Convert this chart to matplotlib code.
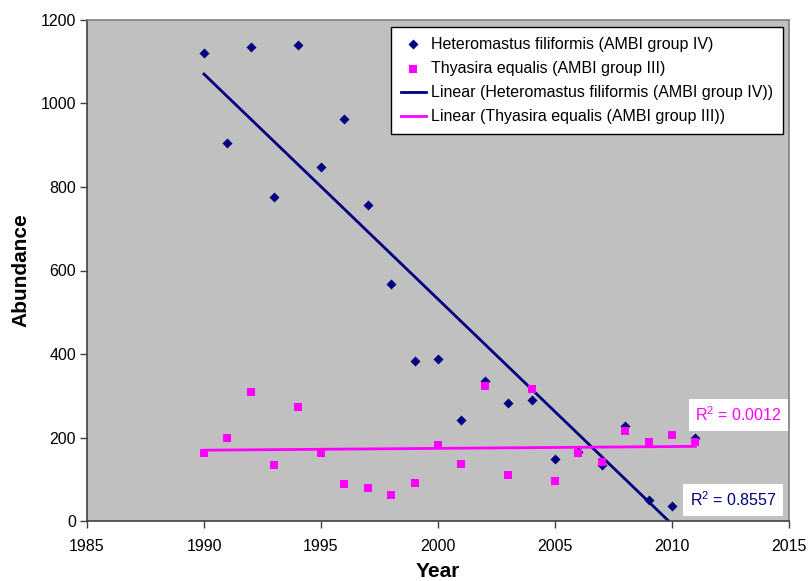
import numpy as np
import matplotlib
matplotlib.use("Agg")
import matplotlib.pyplot as plt

# =========================
# DATA
# =========================

years = np.arange(1990, 2012)

heteromastus = [1121, 906, 1136, 776, 1140, 849, 963, 756, 567, 383, 389,
                243, 335, 283, 289, 148, 165, 134, 228, 50, 37, 199]

thyasira = [162, 200, 309, 135, 274, 162, 88, 80, 62, 91, 182,
            137, 324, 109, 315, 96, 164, 141, 216, 190, 206, 189]

label_het = "Heteromastus filiformis (AMBI group IV)"
label_thy = "Thyasira equalis (AMBI group III)"

r2_het_text = "R$^2$ = 0.8557"
r2_thy_text = "R$^2$ = 0.0012"

NAVY = "#000080"
PINK = "#FF00FF"

plt.rcParams["font.family"] = ["Liberation Sans", "DejaVu Sans"]
plt.rcParams["mathtext.default"] = "regular"

# =========================
# FIGURE
# =========================

fig = plt.figure(figsize=(8.08, 5.81), dpi=100)
ax = fig.add_axes([87 / 808, 60 / 581, 702 / 808, 501 / 581])
ax.set_facecolor("#C0C0C0")

ax.scatter(years, heteromastus, marker="D", s=26, color=NAVY,
           label=label_het, zorder=3, linewidths=0)
ax.scatter(years, thyasira, marker="s", s=40, color=PINK,
           label=label_thy, zorder=3, linewidths=0)

# linear trendlines
p_het = np.polyfit(years, heteromastus, 1)
p_thy = np.polyfit(years, thyasira, 1)

ax.plot(years, np.polyval(p_het, years), color=NAVY, lw=2,
        label="Linear (" + label_het + ")", zorder=2)
ax.plot(years, np.polyval(p_thy, years), color=PINK, lw=2,
        label="Linear (" + label_thy + ")", zorder=2)

ax.set_xlim(1985, 2015)
ax.set_ylim(0, 1200)
ax.set_xticks(np.arange(1985, 2016, 5))
ax.set_yticks(np.arange(0, 1201, 200))

ax.tick_params(labelsize=11.5, length=5, width=1, color="#404040")
ax.tick_params(axis="x", pad=8)
ax.tick_params(axis="y", pad=3)
for side in ["left", "bottom"]:
    ax.spines[side].set_color("#404040")
    ax.spines[side].set_linewidth(1.2)
for side in ["top", "right"]:
    ax.spines[side].set_color("#808080")
    ax.spines[side].set_linewidth(1.2)

ax.set_xlabel("Year", fontsize=15, fontweight="bold", labelpad=6)
ax.set_ylabel("Abundance", fontsize=15, fontweight="bold", labelpad=7)

# =========================
# R2 LABELS
# =========================

box = dict(boxstyle="square,pad=0.4", facecolor="white", edgecolor="none")
ax.text(0.99, 0.212, r2_thy_text, transform=ax.transAxes, ha="right",
        va="center", fontsize=11.5, color=PINK, bbox=box)
ax.text(0.982, 0.042, r2_het_text, transform=ax.transAxes, ha="right",
        va="center", fontsize=11.5, color=NAVY, bbox=box)

# =========================
# LEGEND
# =========================

leg = ax.legend(loc="upper right", bbox_to_anchor=(0.991, 0.986),
                borderaxespad=0, fontsize=11.5, frameon=True, fancybox=False,
                handlelength=1.6, handletextpad=0.3, labelspacing=0.58,
                borderpad=0.6, scatterpoints=1)
leg.get_frame().set_edgecolor("black")
leg.get_frame().set_linewidth(1)
leg.get_frame().set_alpha(1)

plt.savefig("out.png", dpi=100)
